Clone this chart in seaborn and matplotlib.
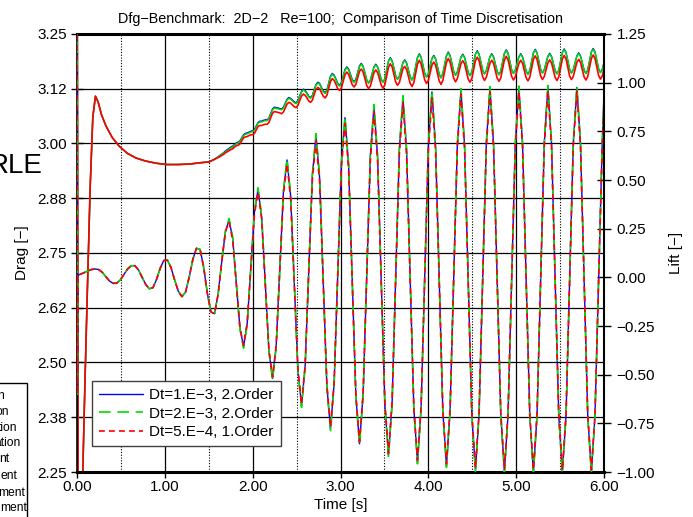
import numpy as np
import matplotlib
matplotlib.use("Agg")
import matplotlib.pyplot as plt
from matplotlib.patches import Rectangle
from matplotlib.ticker import MultipleLocator
import seaborn as sns

# ---------------------------------------------------------------
# data
# ---------------------------------------------------------------
series_labels = ['Dt=1.E−3, 2.Order', 'Dt=2.E−3, 2.Order', 'Dt=5.E−4, 1.Order']

# lift samples: start-up spike, then one sample every 0.04125 s
lift_t = [0.0, 0.004, 0.012] + list(0.04 + 0.04125 * np.arange(145)) + [6.0]

lift_spike = [1.40, -0.60, 0.012]
lift_early = [0.016, 0.024, 0.033, 0.040, 0.043,
              0.040, 0.026, 0.003, -0.019, -0.031,
              -0.030, -0.013, 0.015, 0.043, 0.060,
              0.060, 0.038, 0.000, -0.037, -0.059,
              -0.053, -0.010, 0.047, 0.087,
              0.088, 0.049, -0.015, -0.072, -0.099,
              -0.075, 0.001, 0.092, 0.149,
              0.144, 0.051, -0.082, -0.178,
              -0.187, -0.084, 0.083, 0.236]

lift_blue = lift_spike + lift_early + [
    0.295, 0.200, -0.031, -0.261, -0.356, -0.238, 0.048, 0.334,
    0.452, 0.310, -0.034, -0.377, -0.519, -0.355, 0.042, 0.439,
    0.603, 0.418, -0.029, -0.475, -0.660, -0.456, 0.035, 0.526,
    0.730, 0.509, -0.025, -0.559, -0.780, -0.546, 0.020, 0.586,
    0.820, 0.575, -0.018, -0.610, -0.855, -0.601, 0.013, 0.626,
    0.880, 0.617, -0.018, -0.652, -0.915, -0.645, 0.005, 0.655,
    0.925, 0.650, -0.013, -0.675, -0.950, -0.671, 0.001, 0.673,
    0.952, 0.671, -0.008, -0.687, -0.968, -0.685, -0.003, 0.679,
    0.962, 0.676, -0.014, -0.704, -0.990, -0.703, -0.009, 0.685,
    0.972, 0.684, -0.012, -0.707, -0.995, -0.706, -0.010, 0.686,
    0.975, 0.686, -0.013, -0.711, -1.000, -0.710, -0.011, 0.688,
    0.978, 0.688, -0.011, -0.710, -1.000, -0.711, -0.013, 0.686,
    0.975, 0.686, -0.013, -0.711, -1.000, -0.710, -0.011, 0.688,
    0.930]

lift_green = lift_spike + lift_early + [
    0.303, 0.206, -0.031, -0.267, -0.364, -0.244, 0.048, 0.340,
    0.460, 0.316, -0.034, -0.383, -0.527, -0.361, 0.042, 0.445,
    0.611, 0.424, -0.029, -0.481, -0.668, -0.462, 0.035, 0.532,
    0.738, 0.515, -0.025, -0.565, -0.788, -0.552, 0.020, 0.592,
    0.828, 0.581, -0.018, -0.616, -0.863, -0.607, 0.013, 0.632,
    0.888, 0.623, -0.018, -0.658, -0.923, -0.651, 0.005, 0.661,
    0.933, 0.656, -0.013, -0.681, -0.958, -0.677, 0.001, 0.679,
    0.960, 0.677, -0.008, -0.693, -0.976, -0.691, -0.003, 0.685,
    0.970, 0.682, -0.014, -0.710, -0.998, -0.709, -0.009, 0.691,
    0.980, 0.690, -0.012, -0.713, -1.003, -0.712, -0.010, 0.692,
    0.983, 0.692, -0.013, -0.717, -1.008, -0.716, -0.011, 0.694,
    0.986, 0.694, -0.011, -0.716, -1.008, -0.717, -0.013, 0.692,
    0.983, 0.692, -0.013, -0.717, -1.008, -0.716, -0.011, 0.694,
    0.935]

lift_red = lift_spike + lift_early + [
    0.285, 0.193, -0.031, -0.257, -0.350, -0.234, 0.048, 0.323,
    0.437, 0.300, -0.034, -0.372, -0.512, -0.350, 0.042, 0.425,
    0.583, 0.404, -0.029, -0.469, -0.652, -0.450, 0.035, 0.505,
    0.700, 0.488, -0.025, -0.552, -0.770, -0.539, 0.020, 0.565,
    0.790, 0.554, -0.018, -0.603, -0.845, -0.594, 0.013, 0.605,
    0.850, 0.596, -0.018, -0.645, -0.905, -0.638, 0.005, 0.634,
    0.895, 0.629, -0.013, -0.668, -0.940, -0.664, 0.001, 0.652,
    0.922, 0.650, -0.008, -0.680, -0.958, -0.678, -0.003, 0.665,
    0.942, 0.662, -0.014, -0.697, -0.980, -0.696, -0.009, 0.671,
    0.952, 0.670, -0.012, -0.700, -0.985, -0.699, -0.010, 0.672,
    0.955, 0.672, -0.013, -0.704, -0.990, -0.703, -0.011, 0.674,
    0.958, 0.674, -0.011, -0.703, -0.990, -0.704, -0.013, 0.672,
    0.955, 0.672, -0.013, -0.704, -0.990, -0.703, -0.011, 0.674,
    0.910]

# drag samples: start-up part (same for all runs), then every 0.020625 s
drag_t_early = [0.0, 0.015, 0.03, 0.06, 0.09, 0.12, 0.15, 0.18, 0.21, 0.24, 0.28,
                0.33, 0.40, 0.48, 0.57, 0.67, 0.78, 0.90, 1.02, 1.15, 1.28, 1.40]
drag_t = drag_t_early + list(1.504375 + 0.020625 * np.arange(219))

drag_early = [3.60, 2.00, 2.05, 2.20, 2.45, 2.68, 2.90, 3.06, 3.108, 3.095, 3.065,
              3.040, 3.014, 2.994, 2.978, 2.967, 2.960, 2.955, 2.952, 2.952, 2.953, 2.956]

drag_blue = drag_early + [
    2.958, 2.960, 2.962, 2.964, 2.967, 2.970, 2.973, 2.976, 2.979, 2.983, 2.986, 2.989,
    2.992, 2.994, 2.998, 3.001, 3.003, 3.006, 3.013, 3.020,
    3.023, 3.024, 3.026, 3.028, 3.029, 3.032, 3.040, 3.048,
    3.051, 3.051, 3.053, 3.054, 3.054, 3.058, 3.069, 3.079,
    3.083, 3.082, 3.081, 3.080, 3.079, 3.083, 3.092, 3.101,
    3.105, 3.103, 3.099, 3.095, 3.093, 3.098, 3.109, 3.119,
    3.124, 3.121, 3.115, 3.108, 3.105, 3.110, 3.123, 3.135,
    3.140, 3.137, 3.128, 3.120, 3.116, 3.122, 3.138, 3.154,
    3.160, 3.156, 3.147, 3.137, 3.133, 3.139, 3.154, 3.169,
    3.175, 3.170, 3.158, 3.146, 3.141, 3.147, 3.162, 3.177,
    3.183, 3.176, 3.161, 3.145, 3.138, 3.144, 3.160, 3.175,
    3.181, 3.175, 3.161, 3.146, 3.140, 3.148, 3.168, 3.188,
    3.196, 3.189, 3.172, 3.154, 3.147, 3.153, 3.169, 3.185,
    3.191, 3.184, 3.168, 3.152, 3.145, 3.154, 3.175, 3.196,
    3.205, 3.197, 3.179, 3.160, 3.152, 3.159, 3.177, 3.194,
    3.201, 3.194, 3.176, 3.158, 3.150, 3.159, 3.180, 3.200,
    3.209, 3.201, 3.183, 3.164, 3.156, 3.163, 3.180, 3.197,
    3.204, 3.197, 3.180, 3.162, 3.155, 3.163, 3.184, 3.204,
    3.212, 3.204, 3.186, 3.167, 3.159, 3.166, 3.182, 3.198,
    3.205, 3.198, 3.181, 3.164, 3.157, 3.165, 3.186, 3.206,
    3.214, 3.206, 3.187, 3.168, 3.160, 3.167, 3.183, 3.198,
    3.205, 3.198, 3.182, 3.165, 3.158, 3.166, 3.187, 3.207,
    3.215, 3.207, 3.188, 3.169, 3.161, 3.168, 3.184, 3.199,
    3.206, 3.199, 3.183, 3.166, 3.159, 3.167, 3.188, 3.208,
    3.216, 3.208, 3.189, 3.169, 3.161, 3.168, 3.184, 3.200,
    3.207, 3.200, 3.184, 3.167, 3.160, 3.168, 3.189, 3.209,
    3.217, 3.209, 3.190, 3.170, 3.162, 3.169, 3.185]

drag_green = drag_early + [
    2.958, 2.960, 2.962, 2.964, 2.967, 2.970, 2.972, 2.975, 2.978, 2.981, 2.984, 2.987,
    2.990, 2.992, 2.996, 2.999, 3.001, 3.004, 3.011, 3.018,
    3.021, 3.022, 3.024, 3.026, 3.027, 3.030, 3.038, 3.046,
    3.049, 3.049, 3.051, 3.052, 3.052, 3.056, 3.067, 3.077,
    3.081, 3.080, 3.079, 3.078, 3.077, 3.081, 3.090, 3.099,
    3.103, 3.101, 3.097, 3.093, 3.091, 3.096, 3.107, 3.117,
    3.122, 3.119, 3.113, 3.106, 3.103, 3.108, 3.121, 3.133,
    3.138, 3.135, 3.126, 3.118, 3.114, 3.120, 3.136, 3.152,
    3.158, 3.154, 3.145, 3.135, 3.131, 3.137, 3.152, 3.167,
    3.173, 3.168, 3.156, 3.144, 3.139, 3.145, 3.160, 3.175,
    3.181, 3.175, 3.161, 3.145, 3.138, 3.144, 3.160, 3.175,
    3.179, 3.174, 3.161, 3.146, 3.140, 3.148, 3.168, 3.188,
    3.194, 3.188, 3.172, 3.154, 3.147, 3.153, 3.169, 3.185,
    3.189, 3.183, 3.168, 3.152, 3.145, 3.154, 3.175, 3.196,
    3.203, 3.196, 3.179, 3.160, 3.152, 3.159, 3.177, 3.194,
    3.199, 3.193, 3.176, 3.158, 3.150, 3.159, 3.180, 3.200,
    3.207, 3.200, 3.183, 3.164, 3.156, 3.163, 3.180, 3.197,
    3.202, 3.196, 3.180, 3.162, 3.155, 3.163, 3.184, 3.204,
    3.210, 3.203, 3.186, 3.167, 3.159, 3.166, 3.182, 3.198,
    3.203, 3.197, 3.181, 3.164, 3.157, 3.165, 3.186, 3.206,
    3.212, 3.205, 3.187, 3.168, 3.160, 3.167, 3.183, 3.198,
    3.203, 3.197, 3.182, 3.165, 3.158, 3.166, 3.187, 3.207,
    3.213, 3.206, 3.188, 3.169, 3.161, 3.168, 3.184, 3.199,
    3.204, 3.198, 3.183, 3.166, 3.159, 3.167, 3.188, 3.208,
    3.214, 3.207, 3.189, 3.169, 3.161, 3.168, 3.184, 3.200,
    3.205, 3.199, 3.184, 3.167, 3.160, 3.168, 3.189, 3.209,
    3.215, 3.208, 3.190, 3.170, 3.162, 3.169, 3.185]

drag_red = drag_early + [
    2.958, 2.960, 2.962, 2.964, 2.966, 2.968, 2.970, 2.973, 2.975, 2.979, 2.981, 2.984,
    2.986, 2.988, 2.992, 2.995, 2.996, 2.999, 3.006, 3.013,
    3.015, 3.016, 3.018, 3.020, 3.020, 3.023, 3.031, 3.039,
    3.041, 3.041, 3.043, 3.044, 3.044, 3.048, 3.059, 3.069,
    3.073, 3.072, 3.071, 3.070, 3.068, 3.072, 3.081, 3.090,
    3.094, 3.092, 3.088, 3.084, 3.082, 3.087, 3.098, 3.108,
    3.113, 3.110, 3.104, 3.097, 3.094, 3.099, 3.112, 3.124,
    3.128, 3.125, 3.116, 3.108, 3.104, 3.110, 3.126, 3.142,
    3.148, 3.144, 3.135, 3.125, 3.121, 3.127, 3.142, 3.157,
    3.163, 3.158, 3.146, 3.134, 3.129, 3.135, 3.150, 3.165,
    3.170, 3.163, 3.148, 3.132, 3.125, 3.131, 3.147, 3.162,
    3.168, 3.162, 3.148, 3.133, 3.126, 3.134, 3.154, 3.174,
    3.182, 3.175, 3.158, 3.140, 3.133, 3.139, 3.155, 3.171,
    3.176, 3.169, 3.153, 3.137, 3.130, 3.139, 3.160, 3.181,
    3.190, 3.182, 3.164, 3.145, 3.137, 3.144, 3.162, 3.179,
    3.186, 3.179, 3.161, 3.143, 3.135, 3.144, 3.165, 3.185,
    3.194, 3.186, 3.168, 3.149, 3.141, 3.148, 3.165, 3.182,
    3.189, 3.182, 3.165, 3.147, 3.140, 3.148, 3.169, 3.189,
    3.197, 3.189, 3.171, 3.152, 3.144, 3.151, 3.167, 3.183,
    3.190, 3.183, 3.166, 3.149, 3.142, 3.150, 3.171, 3.191,
    3.199, 3.191, 3.172, 3.153, 3.145, 3.152, 3.168, 3.183,
    3.190, 3.183, 3.167, 3.150, 3.143, 3.151, 3.172, 3.192,
    3.200, 3.192, 3.173, 3.154, 3.146, 3.153, 3.169, 3.184,
    3.191, 3.184, 3.168, 3.151, 3.144, 3.152, 3.173, 3.193,
    3.201, 3.193, 3.174, 3.154, 3.146, 3.153, 3.169, 3.185,
    3.192, 3.185, 3.169, 3.152, 3.145, 3.153, 3.174, 3.194,
    3.202, 3.194, 3.175, 3.155, 3.147, 3.154, 3.170]

time_ticks = [0, 1, 2, 3, 4, 5, 6]
time_ticklabels = ['0.00', '1.00', '2.00', '3.00', '4.00', '5.00', '6.00']
drag_ticks = [2.25, 2.375, 2.5, 2.625, 2.75, 2.875, 3.0, 3.125, 3.25]
drag_ticklabels = ['2.25', '2.38', '2.50', '2.62', '2.75', '2.88', '3.00', '3.12', '3.25']
lift_ticks = [-1.0, -0.75, -0.5, -0.25, 0.0, 0.25, 0.5, 0.75, 1.0, 1.25]
lift_ticklabels = ['−1.00', '−0.75', '−0.50', '−0.25', '0.00', '0.25', '0.50', '0.75', '1.00', '1.25']

# bits of other text that stick into the picture on the left
side_word = 'RLE'
side_lines = ['n', 'on', 'tion', 'ation', 'nt', 'ent', 'ment', 'ment']

# ---------------------------------------------------------------
# figure
# ---------------------------------------------------------------
sns.set_style('ticks')
plt.rcParams['font.family'] = ['Liberation Sans', 'DejaVu Sans']
plt.rcParams.update({'text.color': 'black', 'axes.labelcolor': 'black',
                     'xtick.color': 'black', 'ytick.color': 'black',
                     'axes.edgecolor': 'black'})

W, H = 693, 517
fig = plt.figure(figsize=(W / 100, H / 100), dpi=100)
ax = fig.add_axes([77 / W, 45 / H, 527 / W, 438 / H])
ax2 = ax.twinx()

colors = ['#0000ff', '#00dd00', '#ff0000']

# drag (left axis)
for vals, c, w in zip([drag_blue, drag_green, drag_red], colors, [1.0, 1.1, 1.2]):
    sns.lineplot(x=drag_t, y=vals, ax=ax, color=c, lw=w, estimator=None, legend=False)

# lift (right axis)
lift_styles = ['-', (0, (7, 4)), (0, (3.5, 2.5))]
for vals, c, ls, w, lab in zip([lift_blue, lift_green, lift_red], colors, lift_styles,
                               [1.0, 1.2, 1.2], series_labels):
    sns.lineplot(x=lift_t, y=vals, ax=ax2, color=c, lw=w, linestyle=ls,
                 estimator=None, label=lab)

ax.set_xlim(0, 6)
ax.set_ylim(2.25, 3.25)
ax2.set_ylim(-1.0, 1.25)

ax.set_xticks(time_ticks)
ax.set_xticklabels(time_ticklabels)
ax.set_yticks(drag_ticks)
ax.set_yticklabels(drag_ticklabels)
ax2.set_yticks(lift_ticks)
ax2.set_yticklabels(lift_ticklabels)
ax.xaxis.set_minor_locator(MultipleLocator(0.5))

# grid: solid at the labelled ticks, dotted at the half seconds
ax.set_axisbelow(True)
ax.grid(True, which='major', axis='both', color='black', lw=0.9, ls='-')
ax.grid(True, which='minor', axis='x', color='black', lw=0.8, ls=(0, (1, 1.5)))
ax2.grid(False)

ax.tick_params(which='minor', length=0)
ax.tick_params(axis='y', direction='inout', length=9, width=1, labelsize=11, pad=3)
ax.tick_params(axis='x', direction='out', length=4, width=1, labelsize=11, pad=2)
ax2.tick_params(axis='y', direction='inout', length=10, width=1, labelsize=11, pad=4)

for s in ['top', 'bottom']:
    ax.spines[s].set_linewidth(2.2)
ax.spines['left'].set_linewidth(1.2)
ax.spines['right'].set_visible(False)
for s in ['top', 'bottom', 'left']:
    ax2.spines[s].set_visible(False)
ax2.spines['right'].set_linewidth(1.5)

ax.set_title('Dfg−Benchmark:  2D−2   Re=100;  Comparison of Time Discretisation',
             fontsize=10.4, pad=8)
ax.set_xlabel('Time [s]', fontsize=11, labelpad=3)
ax.set_ylabel('Drag [−]', fontsize=11, labelpad=6)
ax2.set_ylabel('Lift [−]', fontsize=11, labelpad=10)

leg = ax2.legend(handles=ax2.lines[:3], labels=series_labels, loc='lower left',
                 bbox_to_anchor=(0.0285, 0.0594), borderaxespad=0, fancybox=False,
                 edgecolor='#404040', framealpha=1, fontsize=11, handlelength=2.9,
                 handletextpad=0.4, labelspacing=0.3, borderpad=0.45)
leg.get_frame().set_linewidth(1.0)

# cut-off pieces at the left border
fig.text(43 / W, 1 - 173 / H, side_word, ha='right', va='baseline', fontsize=20)
rights = [4, 9, 17, 21, 9, 17, 25, 27]
bases = [399, 415, 431, 446, 462, 479, 496, 511]
for txt, xr, yb in zip(side_lines, rights, bases):
    fig.text(xr / W, 1 - yb / H, txt, ha='right', va='baseline', fontsize=8.7)
fig.add_artist(Rectangle((-0.01, -0.01), 27 / W + 0.01, (517 - 383) / H + 0.01,
                         transform=fig.transFigure, fill=False, edgecolor='black', lw=1))

fig.savefig('out.png', dpi=100)
